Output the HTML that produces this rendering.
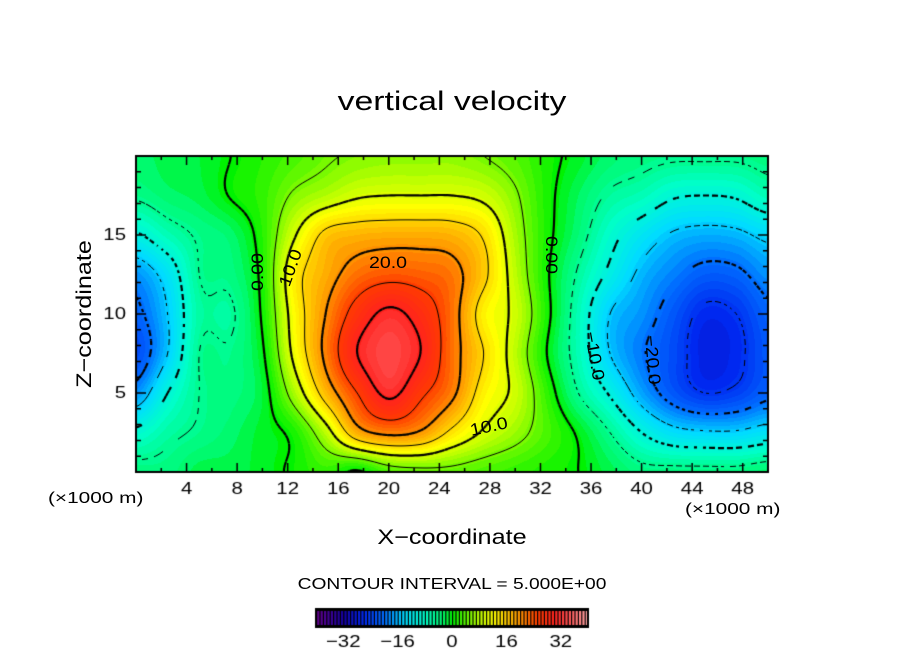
<!DOCTYPE html>
<html><head><meta charset="utf-8"><style>
body{margin:0;background:#fff;width:904px;height:654px;overflow:hidden;position:relative;font-family:"Liberation Sans",sans-serif;}
.t{position:absolute;white-space:nowrap;color:#000;}
.c{left:452px;transform:translateX(-50%) scaleX(var(--s));}
</style></head><body>
<div class="t c" style="--s:1.25;top:86px;font-size:27px;">vertical velocity</div>
<canvas id="plot" width="904" height="654" style="position:absolute;left:0;top:0;"></canvas>
<div class="t" style="left:48px;top:490px;font-size:16px;transform-origin:0 0;transform:scaleX(1.3);">(×1000 m)</div>
<div class="t" style="left:685px;top:501px;font-size:16px;transform-origin:0 0;transform:scaleX(1.3);">(×1000 m)</div>
<div class="t c" style="--s:1.2;top:526px;font-size:21px;">X−coordinate</div>
<div class="t" style="left:85px;top:314px;font-size:21px;transform:translate(-50%,-50%) rotate(-90deg) scaleX(1.2);">Z−coordinate</div>
<div class="t c" style="--s:1.2;top:576px;font-size:16px;">CONTOUR INTERVAL = 5.000E+00</div>
<div id="labels"></div>
<script>
const xs=[0,2.5,5,7.5,10,12.5,15,17.5,20,22.5,25,27.5,30,32.5,35,37.5,40,42.5,45,47.5,50];
const zs=[0,2.5,5,7.5,10,12.5,15,17.5,20];
const row0  =[-4,-4,-2,-2,-1,0.5,2,-0.5,3,4,4,3,2,1,0,-2,-4,-4,-4,-4,-3];
const row25 =[-9,-6,-4.5,-3,-1,1,8,18,21,19.5,14,9.5,6.5,3,-0.5,-5,-10,-13.5,-14.5,-14.5,-13];
const row50 =[-18,-10,-5,-4,-1.5,7,17,25,31,26,21,13,9,2,-5,-10.5,-17,-22,-25,-24,-21];
const row75 =[-23,-15,-5,-4.5,-0.5,11,21,30,33,30,22,15,8,0,-7,-15,-19.5,-23,-27,-26,-22];
const row100=[-21,-15,-6,-5.5,0.5,12,20,27,31,28,22,13,9,1,-7,-15,-18,-22,-26,-25,-21];
const row125=[-18,-13,-5,-4,1,13,18,22,23.5,23,21.5,16,8,0.5,-5.5,-11,-16,-19,-21.5,-21,-18];
const row150=[-10.5,-7,-4.5,-3,1.5,9.5,16,17.5,18,18,17.5,14.5,7,1,-3.5,-8.5,-12.5,-15.5,-16.5,-16,-14];
const row175=[-4.5,-3,-2,0.2,2,5.5,7.5,9.5,10,10,10,9,5.5,1,-2.5,-5.5,-7,-9.5,-10,-9.5,-7];
const row200=[-3,-2,-1.5,0,1.5,3,4.5,5.5,6,6,6,5,3.5,1,-1,-3,-4,-4.5,-4.5,-4.5,-4];
const grid=[row0,row25,row50,row75,row100,row125,row150,row175,row200];
const levels=[-25,-20,-15,-10,-5,0,5,10,15,20,25,30];
const cbTicks=[-32,-16,0,16,32];

const PL=136,PT=156,PW=632,PH=316;
const X0=0,X1=50,Z0=0,Z1=20;
function sx(x){return PL+(x-X0)/(X1-X0)*PW;}
function sy(z){return PT+PH-(z-Z0)/(Z1-Z0)*PH;}
function cr(p0,p1,p2,p3,t){return 0.5*((2*p1)+(-p0+p2)*t+(2*p0-5*p1+4*p2-p3)*t*t+(-p0+3*p1-3*p2+p3)*t*t*t);}
function g(i,j){i=Math.max(0,Math.min(zs.length-1,i));j=Math.max(0,Math.min(xs.length-1,j));return grid[i][j];}
function field(x,z){
  const fx=(x-xs[0])/(xs[1]-xs[0]), fz=(z-zs[0])/(zs[1]-zs[0]);
  let j=Math.min(Math.floor(fx),xs.length-2), i=Math.min(Math.floor(fz),zs.length-2);
  const tx=fx-j,tz=fz-i; const r=[];
  for(let k=-1;k<=2;k++) r.push(cr(g(i+k,j-1),g(i+k,j),g(i+k,j+1),g(i+k,j+2),tx));
  return cr(r[0],r[1],r[2],r[3],tz);
}
const stops=[[-40,[100,0,140]],[-32,[20,0,160]],[-26,[0,40,240]],[-20,[0,110,255]],[-14,[0,220,255]],[-8,[0,255,200]],[-3,[0,250,110]],[0,[0,242,0]],[5,[120,250,0]],[8,[190,255,0]],[12,[255,255,0]],[15,[255,215,0]],[20,[255,145,0]],[25,[255,60,0]],[30,[255,35,30]],[34,[255,80,80]],[40,[255,170,170]]];
function cmap(v){
  if(v<=stops[0][0])return stops[0][1];
  for(let k=1;k<stops.length;k++){if(v<=stops[k][0]){const a=stops[k-1],b=stops[k];const t=(v-a[0])/(b[0]-a[0]);return a[1].map((c,m)=>Math.round(c+(b[1][m]-c)*t));}}
  return stops[stops.length-1][1];
}
const cv=document.getElementById('plot');const ctx=cv.getContext('2d');
const img=ctx.createImageData(PW,PH);
for(let py=0;py<PH;py++)for(let px=0;px<PW;px++){
  const x=X0+(px+0.5)/PW*(X1-X0), z=Z1-(py+0.5)/PH*(Z1-Z0);
  let v=field(x,z); v=Math.round(v); const c=cmap(v); const o=(py*PW+px)*4;
  img.data[o]=c[0];img.data[o+1]=c[1];img.data[o+2]=c[2];img.data[o+3]=255;}
ctx.putImageData(img,PL,PT);
const st=3, nx=Math.ceil(PW/st), nz=Math.ceil(PH/st); const F=[];
for(let a=0;a<=nz;a++){F.push([]);for(let b=0;b<=nx;b++){const px=Math.min(b*st,PW),py=Math.min(a*st,PH);F[a].push(field(X0+px/PW*(X1-X0),Z1-py/PH*(Z1-Z0)));}}
levels.forEach(L=>{
  ctx.strokeStyle='#000';ctx.lineWidth=(L%10===0)?2.2:1;
  for(let a=0;a<nz;a++)for(let b=0;b<nx;b++){
    const p=[[b*st,a*st,F[a][b]],[(b+1)*st,a*st,F[a][b+1]],[(b+1)*st,(a+1)*st,F[a+1][b+1]],[b*st,(a+1)*st,F[a+1][b]]];
    const pts=[];
    for(let e=0;e<4;e++){const A=p[e],B=p[(e+1)%4];if((A[2]-L)*(B[2]-L)<0){const t=(L-A[2])/(B[2]-A[2]);pts.push([A[0]+(B[0]-A[0])*t,A[1]+(B[1]-A[1])*t]);}}
    for(let k=0;k+1<pts.length;k+=2){
      const mx=(pts[k][0]+pts[k+1][0])/2,my=(pts[k][1]+pts[k+1][1])/2;
      if(L<0 && ((mx+my*0.9)%9)>5) continue;
      ctx.beginPath();ctx.moveTo(PL+Math.min(pts[k][0],PW),PT+Math.min(pts[k][1],PH));ctx.lineTo(PL+Math.min(pts[k+1][0],PW),PT+Math.min(pts[k+1][1],PH));ctx.stroke();}
  }
});
ctx.strokeStyle='#000';ctx.lineWidth=2;ctx.strokeRect(PL,PT,PW,PH);
ctx.lineWidth=1.5;
for(let x=2;x<50;x+=2){const l=(x%4===0)?9:4;ctx.beginPath();ctx.moveTo(sx(x),PT+PH);ctx.lineTo(sx(x),PT+PH-l);ctx.moveTo(sx(x),PT);ctx.lineTo(sx(x),PT+l);ctx.stroke();}
for(let z=1;z<20;z++){const l=(z%5===0)?10:5;ctx.beginPath();ctx.moveTo(PL,sy(z));ctx.lineTo(PL+l,sy(z));ctx.moveTo(PL+PW,sy(z));ctx.lineTo(PL+PW-l,sy(z));ctx.stroke();}
ctx.fillStyle='#000';ctx.font='17px "Liberation Sans", sans-serif';ctx.textAlign='center';ctx.textBaseline='middle';
function wtext(s,x,y,al){ctx.save();ctx.translate(x,y);ctx.scale(1.2,1);ctx.textAlign=al;ctx.fillText(s,0,0);ctx.restore();}
for(let x=4;x<50;x+=4)wtext(String(x),sx(x),489,'center');
for(let z=5;z<20;z+=5)wtext(String(z),126,sy(z),'right');
const CL=316,CR=588,CT=609,CB=627;
function cx(v){return CL+(v+40)/80*(CR-CL);}
ctx.fillStyle='#000';ctx.fillRect(CL,CT,CR-CL,CB-CT);
for(let v=-40;v<40;v+=1){const c=cmap(v+0.5);ctx.fillStyle='rgb('+c+')';ctx.fillRect(cx(v)+1.2,CT+2,cx(v+1)-cx(v)-1.2,CB-CT-4);}
ctx.strokeStyle='#000';ctx.lineWidth=2;ctx.strokeRect(CL,CT,CR-CL,CB-CT);
ctx.fillStyle='#000';
cbTicks.forEach(t=>wtext(t<0?'−'+Math.abs(t):String(t),cx(t),642,'center'));
const labs=[[258,272,-90,'0.00'],[291,268,-70,'10.0'],[388,263,0,'20.0'],[489,427,-12,'10.0'],[551,255,90,'0.00'],[594,356,80,'−10.0'],[652,360,85,'−20.0']];
const lb=document.getElementById('labels');
labs.forEach(l=>{const d=document.createElement('div');d.className='t';


d.style.cssText='left:'+l[0]+'px;top:'+l[1]+'px;font-size:17px;transform:translate(-50%,-50%) rotate('+l[2]+'deg) scaleX(1.15);';d.textContent=l[3];lb.appendChild(d);});
</script>
</body></html>
